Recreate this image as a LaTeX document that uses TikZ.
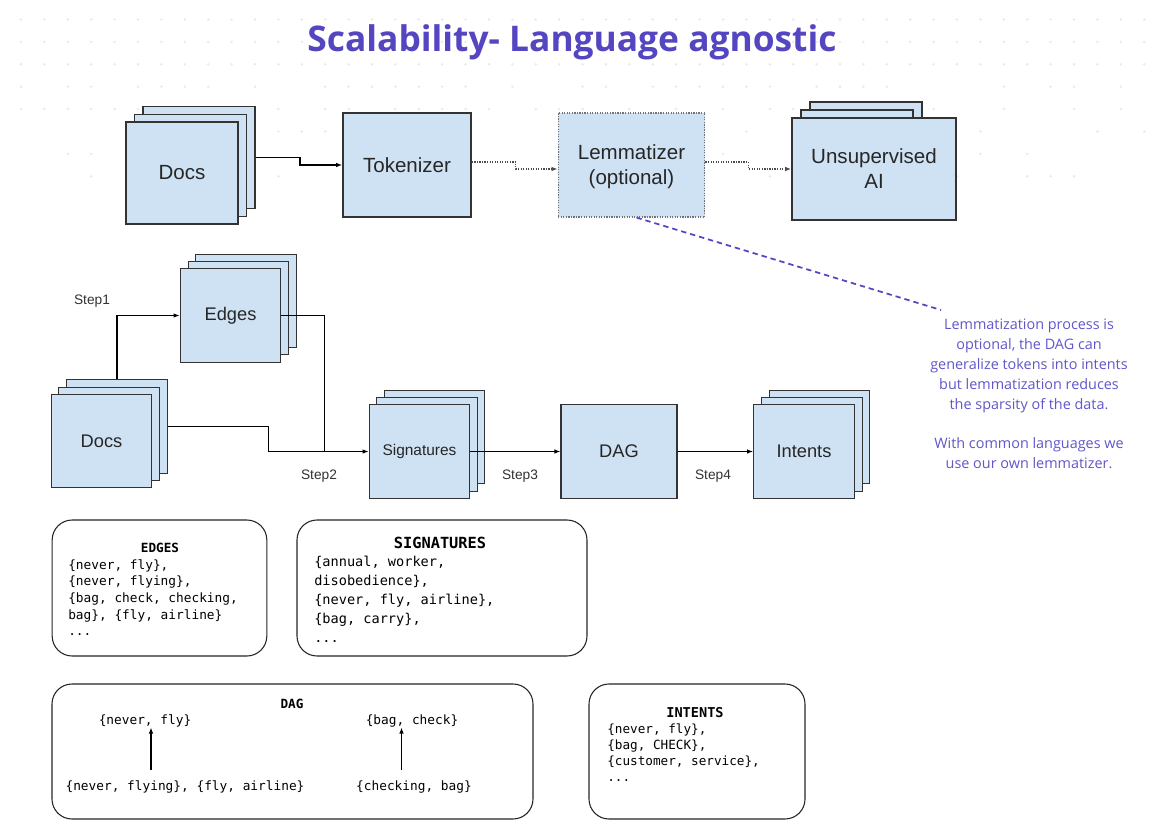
\documentclass[tikz,border=0pt]{standalone}
\usepackage{fontspec}
\setmainfont{Liberation Sans}
\setmonofont{DejaVu Sans Mono}
\newfontfamily\opensans{Open Sans}
\usepackage{xcolor}
\usetikzlibrary{arrows.meta, calc}

\definecolor{boxfill}{HTML}{CFE2F3}
\definecolor{boxline}{HTML}{333333}
\definecolor{titleblue}{HTML}{5446C0}
\definecolor{notepurple}{HTML}{6157C8}
\definecolor{dotgray}{HTML}{E9E9E9}

\begin{document}
\begin{tikzpicture}[
    x=0.75pt, y=-0.75pt,
    box/.style={draw=boxline, fill=boxfill, line width=0.9pt, inner sep=0pt, align=center, text=black!85},
    topsheet/.style={box, line width=1.2pt, minimum width=84pt, minimum height=76.5pt},
    midsheet/.style={box, minimum width=75.5pt, minimum height=70pt},
    bigfont/.style={font=\fontsize{15.4}{18.75}\selectfont},
    midfont/.style={font=\fontsize{13.7}{16}\selectfont},
    flow/.style={draw=black, line width=0.8pt, -{Latex[length=4.5pt, width=3.4pt]}},
    soft/.style={draw=black!70, densely dotted, line width=0.9pt, -{Latex[length=4.5pt, width=3.4pt]}},
    steptext/.style={font=\fontsize{10.3}{12}\selectfont, text=black!80},
    card/.style={draw=black!85, line width=0.8pt, rounded corners=15pt},
    cardtitle/.style={font=\ttfamily\bfseries\fontsize{9.5}{11}\selectfont, inner sep=0pt},
    listing/.style={align=left, anchor=north west, inner sep=0pt}
]

    % ================= BACKGROUND =================
    \fill[white] (0,0) rectangle (1169,827);
    \useasboundingbox (0,0) rectangle (1169,827);
    \pgfmathsetseed{11}
    \foreach \r in {0,...,7}{
        \foreach \c in {0,...,48}{
            \pgfmathsetmacro{\keep}{(\r<3) || (rnd>0.11*\r)}
            \ifdim\keep pt>0.5pt \fill[dotgray] (21+23.4*\c, 19.5+22.4*\r) circle (1pt);\fi
        }
    }

    % ================= TITLE =================
    \node[font=\opensans\bfseries\fontsize{26.5}{30}\selectfont, text=titleblue] (TITLE) at (572,42.5) {Scalability- Language agnostic};

    % ================= TOP PIPELINE =================
    \node[topsheet] (DOCSb) at (199,157.5) {};
    \node[topsheet] (DOCSm) at (190.5,165.5) {};
    \node[topsheet, bigfont] (DOCS) at (182,173) {Docs};

    \node[box, bigfont, line width=1.2pt, minimum width=96pt, minimum height=78pt] (TOK) at (407,165) {Tokenizer};

    \node[box, bigfont, draw=black!55, densely dotted, line width=0.9pt, minimum width=110pt, minimum height=78pt, text depth=-3pt] (LEM) at (631.5,165) {Lemmatizer\\(optional)};

    \node[topsheet] (UAIb) at (866,153) {};
    \node[topsheet] (UAIm) at (857,161) {};
    \node[box, bigfont, line width=1.2pt, minimum width=123pt, minimum height=76.5pt] (UAI) at (874,169) {Unsupervised\\AI};

    \draw[flow, line width=1.3pt] (DOCSb.east) -- ++(44,0) |- (TOK.west);
    \draw[soft] ($(TOK.east)+(0,-3)$) -- ++(44,0) |- ($(LEM.west)+(0,4)$);
    \draw[soft] ($(LEM.east)+(0,-3)$) -- ++(43,0) |- (UAI.west);

    % ================= NOTE =================
    \coordinate (NOTEtip) at (941,310);
    \draw[titleblue, line width=1.3pt, dash pattern=on 4pt off 3pt] ($(LEM.south)+(5,0)$) -- (NOTEtip);
    \node[font=\opensans\fontsize{10.8}{15}\selectfont, text=notepurple, align=center] (NOTE) at (1029,394)
        {Lemmatization process is\\optional, the DAG can\\generalize tokens into intents\\but lemmatization reduces\\the sparsity of the data.\\[14pt]With common languages we\\use our own lemmatizer.};

    % ================= STEPS =================
    \node[midsheet] (SRCb) at (117,426.5) {};
    \node[midsheet] (SRCm) at (109,434) {};
    \node[midsheet, midfont] (SRC) at (101.5,441) {Docs};

    \node[midsheet] (EDGb) at (246,301) {};
    \node[midsheet] (EDGm) at (238.5,308) {};
    \node[midsheet, midfont] (EDG) at (230.5,315.5) {Edges};

    \node[midsheet] (SIGb) at (434.5,437) {};
    \node[midsheet] (SIGm) at (427,444.5) {};
    \node[midsheet, font=\fontsize{11.6}{14}\selectfont] (SIG) at (419.5,451.5) {Signatures};

    \node[box, midfont, minimum width=87pt, minimum height=70pt] (DAG) at (619,451.5) {DAG};

    \node[midsheet] (INTb) at (819.5,437) {};
    \node[midsheet] (INTm) at (812,444.5) {};
    \node[midsheet, midfont] (INT) at (804,451.5) {Intents};

    \draw[flow] (SRCb.north) |- (EDG.west);
    \draw[line width=0.8pt] (EDG.east) -| ($(SIG.west)+(-44,0)$);
    \draw[flow] (SRCb.east) -- ++(101,0) |- (SIG.west);
    \draw[flow] (SIG.east) -- (DAG.west);
    \draw[flow] (DAG.east) -- (INT.west);

    \node[steptext] (S1) at (92,301) {Step1};
    \node[steptext] (S2) at (319,476) {Step2};
    \node[steptext] (S3) at (520,476) {Step3};
    \node[steptext] (S4) at (713,476) {Step4};

    % ================= EXAMPLES =================
    \node[card, minimum width=161pt, minimum height=102pt] (EDGcard) at (159.5,588) {};
    \node[cardtitle] (EDGtitle) at (160,548) {EDGES};
    \node[listing, font=\ttfamily\fontsize{9.6}{12.5}\selectfont] (EDGlist) at (68,559)
        {\{never, fly\},\\\{never, flying\},\\\{bag, check, checking,\\bag\}, \{fly, airline\}\\...};

    \node[card, minimum width=217.5pt, minimum height=102pt] (SIGcard) at (442,588) {};
    \node[cardtitle, font=\ttfamily\bfseries\fontsize{11.5}{13}\selectfont] (SIGtitle) at (440,543) {SIGNATURES};
    \node[listing, font=\ttfamily\fontsize{10.2}{14.25}\selectfont] (SIGlist) at (314,556)
        {\{annual, worker,\\disobedience\},\\\{never, fly, airline\},\\\{bag, carry\},\\...};

    \node[card, minimum width=360.75pt, minimum height=101.25pt] (DAGcard) at (292.5,751.5) {};
    \node[cardtitle] (DAGtitle) at (292,704) {DAG};
    \node[inner sep=0pt, font=\ttfamily\fontsize{9.6}{11}\selectfont] (NFLY) at (145,721) {\{never, fly\}};
    \node[inner sep=0pt, font=\ttfamily\fontsize{9.6}{11}\selectfont] (BAGCHK) at (412,721) {\{bag, check\}};
    \node[inner sep=0pt, font=\ttfamily\fontsize{9.6}{11}\selectfont] (NFLYING) at (185,787) {\{never, flying\}, \{fly, airline\}};
    \node[inner sep=0pt, font=\ttfamily\fontsize{9.6}{11}\selectfont] (CHKBAG) at (414,787) {\{checking, bag\}};
    \coordinate (upA) at ($(NFLY.south)+(6,0)$);
    \coordinate (upB) at ($(BAGCHK.south)+(-10.5,0)$);
    \draw[flow, shorten <=8pt] (NFLYING.north -| upA) -- (upA);
    \draw[flow, shorten <=8pt] (CHKBAG.north -| upB) -- (upB);

    \node[card, minimum width=162pt, minimum height=101.25pt] (INTcard) at (697,751.5) {};
    \node[cardtitle, font=\ttfamily\bfseries\fontsize{10.2}{12}\selectfont] (INTtitle) at (695,713) {INTENTS};
    \node[listing, font=\ttfamily\fontsize{9.5}{12}\selectfont] (INTlist) at (607,724)
        {\{never, fly\},\\\{bag, CHECK\},\\\{customer, service\},\\...};

\end{tikzpicture}
\end{document}
